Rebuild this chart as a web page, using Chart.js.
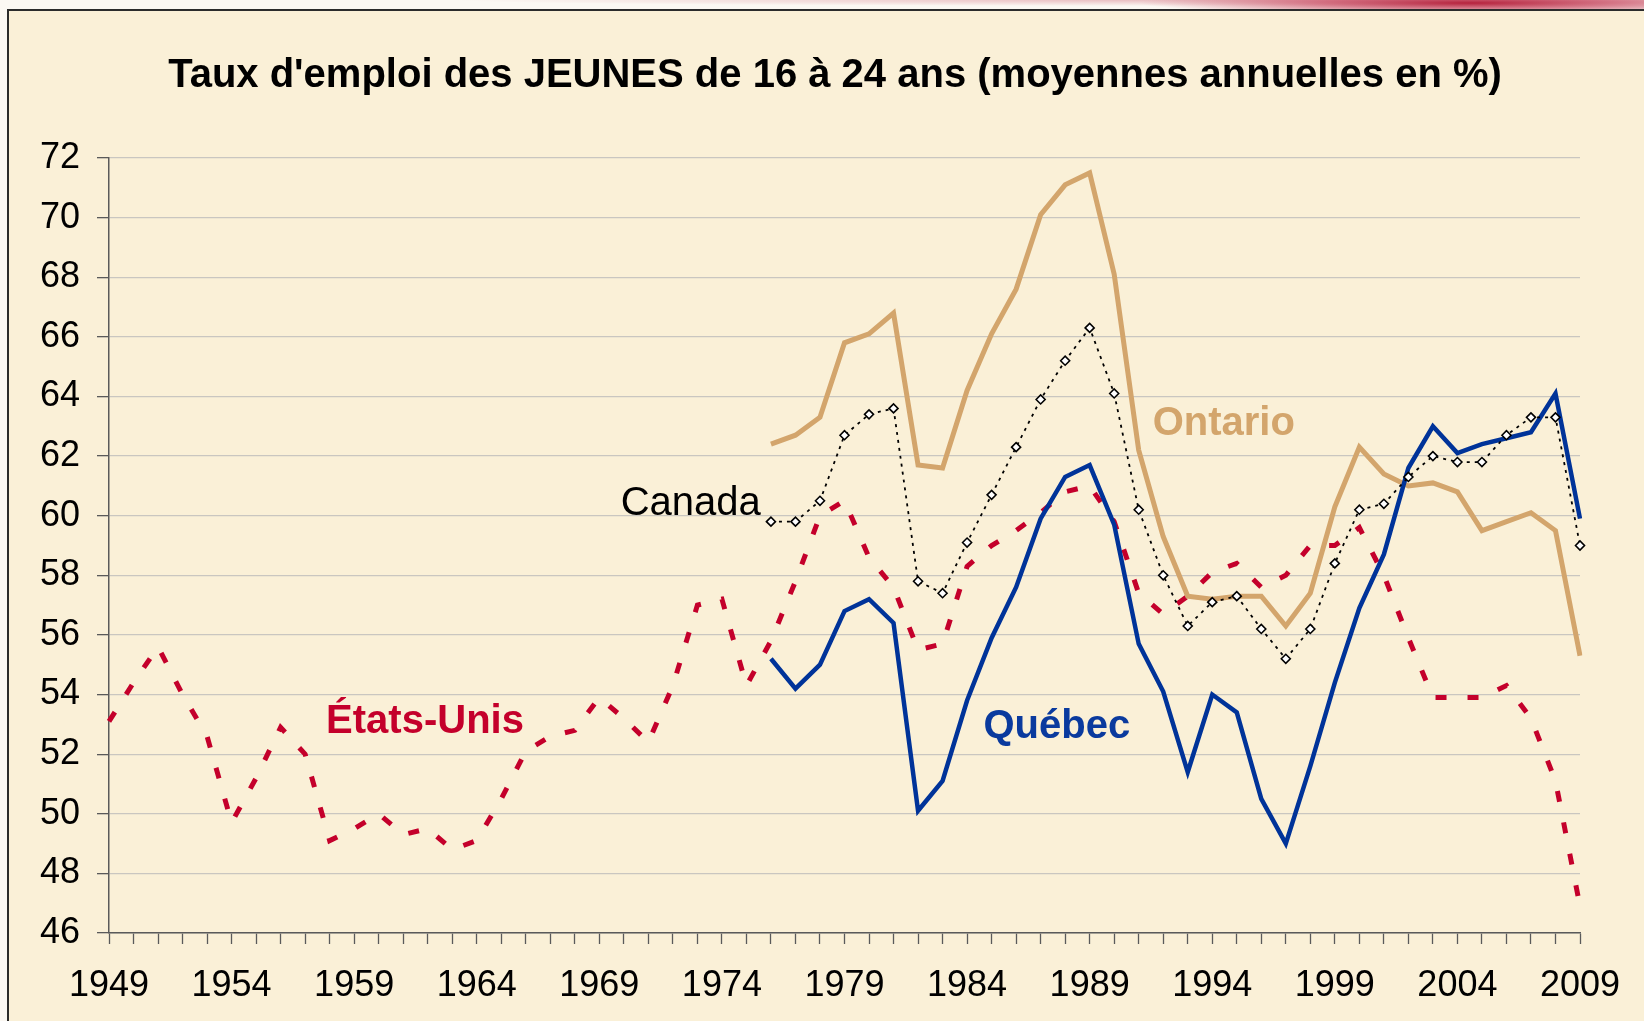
<!DOCTYPE html>
<html lang="fr">
<head>
<meta charset="utf-8">
<title>Taux d'emploi des jeunes de 16 à 24 ans</title>
<script src="https://cdn.jsdelivr.net/npm/chart.js@4.4.1/dist/chart.umd.min.js"></script>
<style>
	html, body { margin: 0; padding: 0; background: #fbf8f3; overflow: hidden; }
	#bandeau { position: absolute; left: 0; top: 0; width: 1644px; height: 10px;
		background: radial-gradient(ellipse 330px 12px at 1470px 3px, rgba(178,24,52,0.95) 0%, rgba(190,40,70,0.6) 45%, rgba(255,255,255,0) 100%),
			radial-gradient(ellipse 700px 6px at 1150px 0px, rgba(200,80,100,0.35) 0%, rgba(255,255,255,0) 100%); }
	#fond { position: absolute; left: 7px; top: 9px; width: 1637px; height: 1012px; box-sizing: border-box;
		background: #faf0d7; border-top: 2px solid #2b2b2b; border-left: 2px solid #2b2b2b; }
	#zone { position: absolute; left: 0; top: 0; width: 1644px; height: 1021px; }
</style>
</head>
<body>
<div id="bandeau"></div>
<div id="fond"></div>
<div id="zone"><canvas id="emploiJeunes"></canvas></div>
<script>
let titre = "Taux d'emploi des JEUNES de 16 à 24 ans (moyennes annuelles en %)";

let annees = ['1949','1950','1951','1952','1953','1954','1955','1956','1957','1958',
	'1959','1960','1961','1962','1963','1964','1965','1966','1967','1968',
	'1969','1970','1971','1972','1973','1974','1975','1976','1977','1978',
	'1979','1980','1981','1982','1983','1984','1985','1986','1987','1988',
	'1989','1990','1991','1992','1993','1994','1995','1996','1997','1998',
	'1999','2000','2001','2002','2003','2004','2005','2006','2007','2008','2009'];

// 1949 - 2009
let etatsUnis = [53.1, 54.4, 55.6, 54.0, 52.6, 49.7, 51.2, 52.9, 52.0, 49.1,
	49.5, 50.0, 49.3, 49.5, 48.8, 49.1, 50.5, 52.1, 52.6, 52.8,
	53.9, 53.2, 52.4, 54.3, 57.0, 57.2, 54.3, 55.8, 57.8, 60.0,
	60.5, 58.6, 57.6, 55.5, 55.7, 58.3, 59.0, 59.5, 60.1, 60.8,
	61.0, 59.8, 57.4, 56.7, 57.3, 58.1, 58.4, 57.6, 58.0, 59.0,
	59.0, 59.6, 58.0, 55.9, 53.9, 53.9, 53.9, 54.3, 53.2, 51.1, 46.9];

// 1976 - 2009
let quebec = [55.2, 54.2, 55.0, 56.8, 57.2, 56.4, 50.1, 51.1, 53.8, 55.9,
	57.6, 59.9, 61.3, 61.7, 59.7, 55.7, 54.1, 51.4, 54.0, 53.4,
	50.5, 49.0, 51.6, 54.4, 56.9, 58.7, 61.6, 63.0, 62.1, 62.4,
	62.6, 62.8, 64.1, 59.9];

let ontario = [62.4, 62.7, 63.3, 65.8, 66.1, 66.8, 61.7, 61.6, 64.2, 66.1,
	67.6, 70.1, 71.1, 71.5, 68.1, 62.2, 59.3, 57.3, 57.2, 57.3,
	57.3, 56.3, 57.4, 60.3, 62.3, 61.4, 61.0, 61.1, 60.8, 59.5,
	59.8, 60.1, 59.5, 55.3];

let canada = [59.8, 59.8, 60.5, 62.7, 63.4, 63.6, 57.8, 57.4, 59.1, 60.7,
	62.3, 63.9, 65.2, 66.3, 64.1, 60.2, 58.0, 56.3, 57.1, 57.3,
	56.2, 55.2, 56.2, 58.4, 60.2, 60.4, 61.3, 62.0, 61.8, 61.8,
	62.7, 63.3, 63.3, 59.0];

// noms poses dans le graphique (annee, valeur de la ligne de base)
let nomsSeries = [
	{ texte : 'Canada',     annee : 1972.73, valeur : 60.02, couleur : '#000000', gras : false },
	{ texte : 'Ontario',    annee : 1994.47, valeur : 62.71, couleur : '#d3a56c', gras : true },
	{ texte : 'Québec',     annee : 1987.66, valeur : 52.54, couleur : '#0a3a9e', gras : true },
	{ texte : 'États-Unis', annee : 1961.89, valeur : 52.71, couleur : '#c4002b', gras : true }
];

let police = 'Arial, "Liberation Sans", sans-serif';
let vide = new Array(annees.indexOf('1976')).fill(null);

let etiquettes = {
	id : 'etiquettes',
	afterDatasetsDraw : function(chart) {
		let ctx = chart.ctx, x = chart.scales.x, y = chart.scales.y;
		ctx.save();
		ctx.textAlign = 'center';
		ctx.textBaseline = 'alphabetic';
		ctx.fillStyle = '#000000';
		ctx.font = 'bold 40px ' + police;
		ctx.fillText(titre, 835, 87);
		nomsSeries.forEach(function(n) {
			ctx.font = (n.gras ? 'bold ' : '') + '40px ' + police;
			ctx.fillStyle = n.couleur;
			ctx.fillText(n.texte, x.getPixelForValue(n.annee - 1949), y.getPixelForValue(n.valeur));
		});
		ctx.restore();
	}
};

let graphique = new Chart(document.getElementById('emploiJeunes').getContext('2d'), {
	type : 'line',
	data : {
		labels   : annees,
		datasets : [
			{
				label                : 'Canada',
				data                 : vide.concat(canada),
				borderColor          : '#000000',
				borderWidth          : 1.8,
				borderDash           : [3, 5],
				pointRadius          : 4.5,
				pointStyle           : 'rectRot',
				pointBackgroundColor : '#ffffff',
				pointBorderColor     : '#000000',
				pointBorderWidth     : 1.6
			},
			{
				label       : 'Québec',
				data        : vide.concat(quebec),
				borderColor : '#003399',
				borderWidth : 4.5
			},
			{
				label       : 'Ontario',
				data        : vide.concat(ontario),
				borderColor : '#d3a56c',
				borderWidth : 5
			},
			{
				label          : 'États-Unis',
				data           : etatsUnis,
				borderColor    : '#c4002b',
				borderWidth    : 5,
				borderDash     : [11, 21],
				borderCapStyle : 'butt'
			}
		]
	},
	options : {
		responsive          : true,
		maintainAspectRatio : false,
		animation           : false,
		layout   : { padding : { top : 158, right : 64, bottom : 0, left : 0 } },
		elements : { line : { tension : 0, fill : false }, point : { radius : 0 } },
		plugins  : { legend : { display : false }, tooltip : { enabled : false }, title : { display : false } },
		scales   : {
			x : {
				type   : 'category',
				offset : false,
				grid   : { drawOnChartArea : false, tickLength : 11, tickColor : '#5a5a5a', tickWidth : 1.3 },
				border : { color : '#5a5a5a', width : 1.5 },
				ticks  : {
					autoSkip    : false,
					maxRotation : 0,
					padding     : 20,
					color       : '#000000',
					font        : { size : 36, family : police },
					callback    : function(value, index) {
						return (Number(annees[index]) - 1949) % 5 === 0 ? annees[index] : '';
					}
				},
				afterFit : function(scale) { scale.height = 88; }
			},
			y : {
				min    : 46,
				max    : 72,
				grid   : { color : '#c9c6c0', lineWidth : 1.3, tickLength : 12, tickColor : '#5a5a5a' },
				border : { color : '#5a5a5a', width : 1.5 },
				ticks  : { stepSize : 2, padding : 17, color : '#000000', font : { size : 36, family : police } },
				afterFit : function(scale) { scale.width = 109; }
			}
		}
	},
	plugins : [etiquettes]
});
</script>
</body>
</html>
